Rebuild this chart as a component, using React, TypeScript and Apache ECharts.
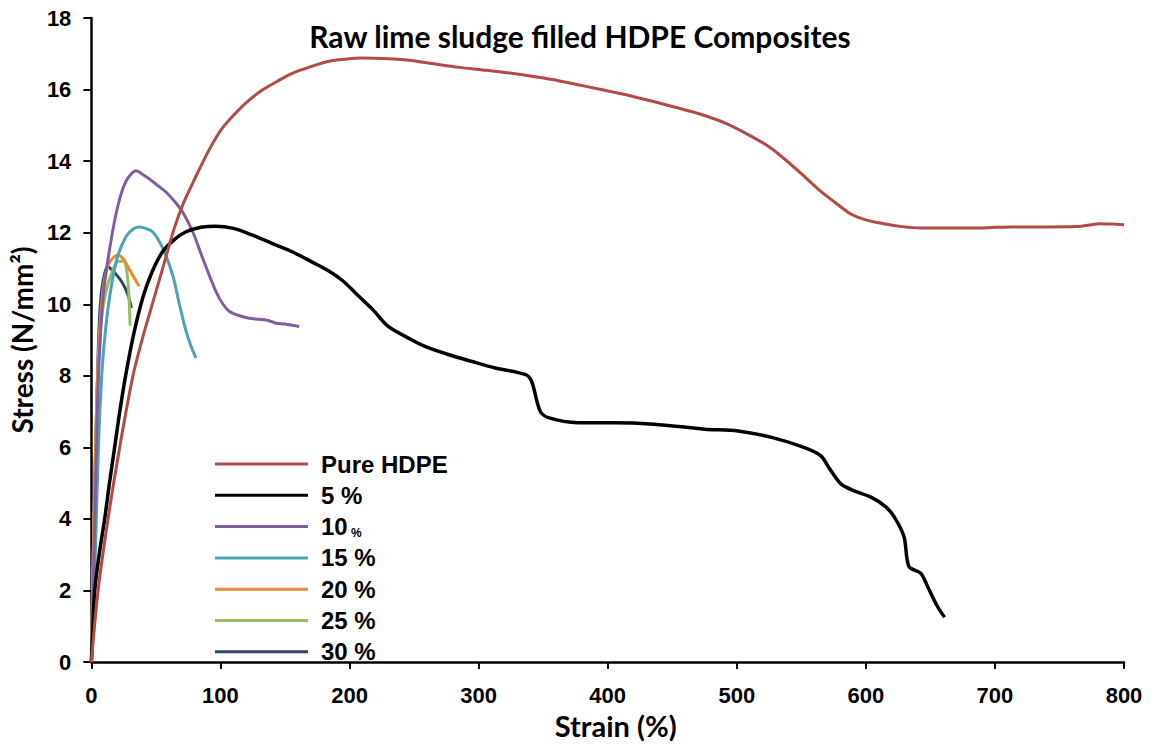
import React, { useEffect, useRef } from "react";
import * as echarts from "echarts";

// Stress–strain curves, strain in %, stress in N/mm²
const pureHdpe: [number, number][] = [
  [0, 0], [5.2, 2], [12.9, 4], [21.9, 6], [32.2, 8], [40, 9.1], [48, 10.1], [56, 11.1], [64, 12.1],
  [71, 12.8], [80, 13.5], [91, 14.3], [101, 14.9], [112, 15.35], [122, 15.7], [133, 16.0], [145, 16.25],
  [156, 16.46], [170, 16.64], [184, 16.79], [197, 16.85], [210, 16.88], [230, 16.86], [246, 16.82],
  [265, 16.72], [285, 16.62], [303, 16.55], [320, 16.48], [340, 16.38], [357, 16.28], [375, 16.15],
  [395, 16.0], [415, 15.85], [434, 15.68], [453, 15.5], [472, 15.31], [492, 15.05], [511, 14.7],
  [525, 14.4], [537, 14.06], [550, 13.65], [563, 13.22], [576, 12.85], [588, 12.53], [600, 12.36],
  [614, 12.25], [628, 12.17], [642, 12.13], [665, 12.13], [686, 12.13], [700, 12.15], [714, 12.16],
  [740, 12.16], [763, 12.17], [772, 12.21], [781, 12.25], [790, 12.24], [800, 12.22],
];

const filler5: [number, number][] = [
  [0, 0], [1.2, 1], [2.6, 2], [6, 3], [10.3, 4], [14, 5], [18, 6], [22, 7], [26.5, 8], [33, 9.2],
  [40, 10.2], [47, 10.9], [55, 11.46], [64, 11.8], [73, 12.02], [85, 12.15], [96, 12.18], [110, 12.12],
  [125, 11.93], [140, 11.7], [156, 11.46], [170, 11.2], [184, 10.93], [195, 10.65], [205, 10.3],
  [218, 9.85], [230, 9.38], [248, 9.01], [260, 8.8], [277, 8.59], [295, 8.4], [313, 8.22], [336, 8.04],
  [341, 7.85], [347.6, 7.02], [354, 6.83], [377, 6.69], [403, 6.69], [436, 6.65], [475, 6.51],
  [501, 6.46], [527, 6.28], [552, 6.0], [565, 5.77], [572, 5.4], [580.7, 4.98], [590, 4.8], [604, 4.61],
  [615, 4.35], [622, 4.06], [629.6, 3.5], [633.4, 2.67], [642.6, 2.48], [648, 2.1], [655.4, 1.56],
  [661, 1.25],
];

const filler10: [number, number][] = [
  [0, 0], [2, 3], [4, 6], [5.5, 8], [9, 10.17], [14.2, 11.56], [20.6, 12.76], [27, 13.45], [34.8, 13.73],
  [40, 13.62], [45, 13.5], [52, 13.3], [58, 13.13], [65, 12.85], [70.8, 12.57], [78.6, 12.02],
  [86.3, 11.28], [96.6, 10.35], [102, 10.0], [107, 9.8], [115, 9.68], [122.4, 9.61], [130, 9.58],
  [137.8, 9.54], [143, 9.47], [150, 9.45], [161, 9.38],
];

const filler15: [number, number][] = [
  [0, 0], [3, 3], [5.5, 6], [8, 8], [11, 9.3], [15, 10.4], [20, 11.3], [27, 11.9], [33, 12.12],
  [37.4, 12.16], [42, 12.12], [47.6, 12.02], [55.4, 11.56], [63, 10.81], [68.3, 9.98], [73.4, 9.24],
  [77, 8.85], [81, 8.5],
];

const filler20: [number, number][] = [
  [0, 0], [2, 4], [4, 7], [6, 9], [9, 10.4], [13, 11.1], [17, 11.3], [21, 11.37], [25, 11.25],
  [29, 11.0], [33, 10.75], [37, 10.5],
];

const filler25: [number, number][] = [
  [0, 0], [2, 4], [4, 7], [7, 9.3], [11, 10.3], [16, 10.9], [21, 11.2], [25, 11.2], [27.5, 10.9],
  [29, 10.3], [30, 9.4],
];

const filler30: [number, number][] = [
  [0, 0], [2, 4], [4, 7], [6, 9.4], [8, 10.4], [11, 10.95], [13, 11.05], [16, 10.95], [20, 10.8],
  [24, 10.6], [28, 10.3], [31, 9.9],
];

const seriesNames = ["Pure HDPE", "5 %", "10 %", "15 %", "20 %", "25 %", "30 %"];
const seriesData = [pureHdpe, filler5, filler10, filler15, filler20, filler25, filler30];
const seriesColors = ["#B24A46", "#000000", "#7E5EA0", "#4AA3BA", "#EE8737", "#9DBB61", "#2A4866"];

const xTicks = { min: 0, max: 800, interval: 100 };
const yTicks = { min: 0, max: 18, interval: 2 };

const chartTitle = "Raw lime sludge filled HDPE Composites";
const xName = "Strain (%)";
const yName = "Stress (N/mm\u00B2)";

export default function App() {
  const ref = useRef<HTMLDivElement>(null);

  useEffect(() => {
    if (!ref.current) return;
    const chart = echarts.init(ref.current, null, { renderer: "svg" });
    const tickFont = {
      fontFamily: "Liberation Sans, Arial, sans-serif",
      fontWeight: "bold" as const,
      fontSize: 22,
      color: "#000",
    };
    const legendFont = { ...tickFont, fontSize: 24 };
    const nameFont = {
      fontFamily: "Lato, Open Sans, sans-serif",
      fontWeight: "bold" as const,
      fontSize: 28,
      color: "#000",
    };
    chart.setOption({
      animation: false,
      backgroundColor: "#fff",
      title: {
        text: chartTitle,
        left: 575,
        top: 16,
        textAlign: "center",
        textStyle: { ...nameFont, fontSize: 30 },
      },
      grid: { left: 88, right: 30, top: 18, bottom: 79, containLabel: false },
      legend: {
        orient: "vertical",
        left: 210,
        top: 447,
        icon: "rect",
        itemWidth: 93,
        itemHeight: 3,
        itemGap: 7.3,
        selectedMode: false,
        data: seriesNames,
        formatter: (name: string) =>
          name === "10 %" ? "{n|10}{s| %}" : "{n|" + name + "}",
        textStyle: {
          ...legendFont,
          padding: [0, 0, 0, 8],
          rich: {
            n: { ...legendFont, lineHeight: 24 },
            s: { ...legendFont, fontSize: 12, lineHeight: 24, verticalAlign: "bottom" },
          },
        },
      },
      xAxis: {
        type: "value",
        min: xTicks.min,
        max: xTicks.max,
        interval: xTicks.interval,
        name: xName,
        nameLocation: "middle",
        nameGap: 45,
        nameTextStyle: { ...nameFont, fontSize: 29, padding: [0, 0, 0, 16] },
        axisLine: { lineStyle: { color: "#000", width: 2.5 } },
        axisTick: { show: true, inside: false, length: 7, lineStyle: { color: "#000", width: 2 } },
        axisLabel: { ...tickFont, margin: 22 },
        splitLine: { show: false },
      },
      yAxis: {
        type: "value",
        min: yTicks.min,
        max: yTicks.max,
        interval: yTicks.interval,
        name: yName,
        nameLocation: "middle",
        nameGap: 50,
        nameRotate: 90,
        nameTextStyle: nameFont,
        axisLine: { show: true, lineStyle: { color: "#000", width: 2.5 } },
        axisTick: { show: true, inside: false, length: 8, lineStyle: { color: "#000", width: 2 } },
        axisLabel: { ...tickFont, margin: 20 },
        splitLine: { show: false },
      },
      series: seriesNames.map((name, i) => ({
        name,
        type: "line",
        data: seriesData[i],
        symbol: "none",
        smooth: 0.3,
        color: seriesColors[i],
        lineStyle: { color: seriesColors[i], width: i === 1 ? 3.5 : 3 },
        z: 10 - i,
      })),
    });
    return () => chart.dispose();
  }, []);

  return (
    <div
      ref={ref}
      style={{ position: "absolute", left: 0, top: 0, width: 1154, height: 745 }}
    />
  );
}
